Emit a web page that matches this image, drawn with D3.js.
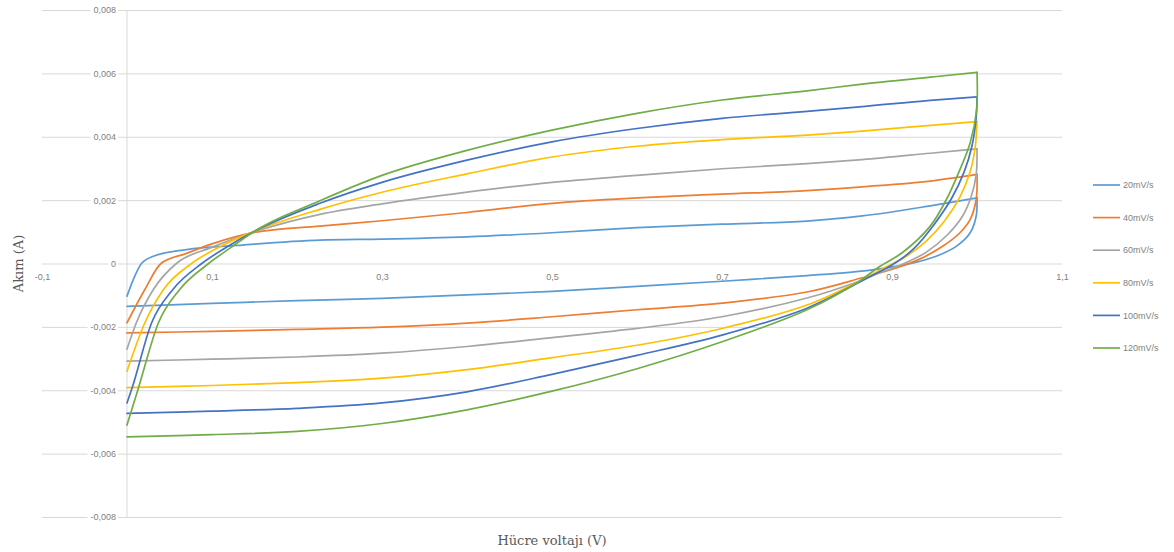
<!DOCTYPE html>
<html>
<head>
<meta charset="utf-8">
<script src="https://cdn.jsdelivr.net/npm/d3@7/dist/d3.min.js"></script>
<style>
  html, body { margin: 0; padding: 0; background: #fff; }
  svg { display: block; }
</style>
</head>
<body>
<svg id="chart" width="1174" height="552"></svg>
<script>
// ---------- data (V, mA) ----------
const seriesNames = ["20mV/s", "40mV/s", "60mV/s", "80mV/s", "100mV/s", "120mV/s"];
const seriesColors = ["#5B9BD5", "#ED7D31", "#A5A5A5", "#FFC000", "#4472C4", "#70AD47"];
const xTicks = [-0.1, 0.1, 0.3, 0.5, 0.7, 0.9, 1.1];
const yTicks = [-0.008, -0.006, -0.004, -0.002, 0, 0.002, 0.004, 0.006, 0.008];

// forward (anodic) sweeps, V from 0 to 1
const fwd20  = [[0,-1.03],[0.0075,-0.5],[0.017,0],[0.031,0.23],[0.07,0.44],[0.129,0.57],[0.227,0.74],[0.3,0.77],[0.4,0.84],[0.5,0.97],[0.6,1.13],[0.7,1.24],[0.8,1.34],[0.865,1.5],[0.945,1.82],[1.0,2.07]];
const fwd40  = [[0,-1.87],[0.021,-0.82],[0.04,0],[0.07,0.32],[0.1,0.62],[0.15,0.98],[0.227,1.18],[0.3,1.35],[0.4,1.61],[0.5,1.9],[0.6,2.07],[0.7,2.19],[0.8,2.30],[0.865,2.42],[0.945,2.6],[1.0,2.81]];
const fwd60  = [[0,-2.7],[0.011,-1.87],[0.031,-0.82],[0.058,0],[0.099,0.5],[0.15,1.0],[0.227,1.55],[0.3,1.88],[0.4,2.25],[0.5,2.56],[0.6,2.78],[0.7,2.99],[0.8,3.15],[0.865,3.28],[0.945,3.48],[1.0,3.62]];
const fwd80  = [[0,-3.4],[0.021,-1.87],[0.043,-0.82],[0.076,0],[0.107,0.5],[0.15,1.02],[0.227,1.71],[0.3,2.25],[0.4,2.83],[0.5,3.36],[0.6,3.70],[0.7,3.91],[0.8,4.05],[0.865,4.18],[0.945,4.36],[1.0,4.48]];
const fwd100 = [[0,-4.4],[0.0055,-3.97],[0.029,-1.87],[0.054,-0.82],[0.088,0],[0.116,0.5],[0.15,1.02],[0.227,1.9],[0.3,2.56],[0.4,3.26],[0.5,3.84],[0.6,4.26],[0.7,4.58],[0.8,4.8],[0.865,4.95],[0.945,5.15],[1.0,5.26]];
const fwd120 = [[0,-5.1],[0.013,-3.97],[0.037,-1.87],[0.062,-0.82],[0.096,0],[0.122,0.5],[0.15,1.02],[0.227,1.98],[0.3,2.78],[0.4,3.57],[0.5,4.21],[0.6,4.74],[0.7,5.16],[0.8,5.45],[0.865,5.66],[0.945,5.88],[1.0,6.03]];

// reverse (cathodic) sweeps, V from 1 back to 0 (start at the forward sweep's last point)
const rev20  = [[0.999,1.49],[0.992,0.97],[0.976,0.55],[0.952,0.23],[0.925,0.02],[0.886,-0.17],[0.85,-0.28],[0.8,-0.38],[0.7,-0.56],[0.6,-0.72],[0.5,-0.88],[0.4,-0.99],[0.3,-1.1],[0.2,-1.17],[0.1,-1.26],[0,-1.35]];
const rev40  = [[0.999,2.02],[0.992,1.39],[0.98,0.97],[0.96,0.55],[0.932,0.13],[0.905,-0.14],[0.865,-0.45],[0.8,-0.9],[0.7,-1.25],[0.6,-1.46],[0.5,-1.68],[0.4,-1.88],[0.3,-2.01],[0.2,-2.08],[0.1,-2.14],[0,-2.19]];
const rev60  = [[0.999,2.8],[0.993,2.1],[0.982,1.45],[0.965,0.9],[0.94,0.35],[0.91,-0.05],[0.88,-0.35],[0.862,-0.55],[0.8,-1.09],[0.7,-1.68],[0.6,-2.05],[0.5,-2.34],[0.4,-2.62],[0.3,-2.83],[0.2,-2.95],[0.1,-3.02],[0,-3.08]];
const rev80  = [[0.998,3.7],[0.992,2.9],[0.98,2.1],[0.962,1.35],[0.94,0.7],[0.915,0.2],[0.89,-0.15],[0.862,-0.55],[0.8,-1.31],[0.7,-2.05],[0.6,-2.58],[0.5,-2.97],[0.4,-3.35],[0.3,-3.62],[0.2,-3.76],[0.1,-3.85],[0,-3.92]];
const rev100 = [[0.999,4.6],[0.994,3.7],[0.985,2.9],[0.97,2.05],[0.95,1.25],[0.925,0.45],[0.9,-0.05],[0.875,-0.4],[0.8,-1.41],[0.7,-2.26],[0.6,-2.90],[0.5,-3.5],[0.4,-4.05],[0.3,-4.4],[0.2,-4.57],[0.1,-4.66],[0,-4.73]];
const rev120 = [[0.9996,4.86],[0.992,3.81],[0.98,2.97],[0.964,2.02],[0.945,1.18],[0.912,0.34],[0.885,-0.1],[0.862,-0.55],[0.8,-1.46],[0.7,-2.47],[0.6,-3.32],[0.5,-4.03],[0.4,-4.62],[0.3,-5.05],[0.2,-5.3],[0.1,-5.4],[0,-5.47]];

const forwards = [fwd20, fwd40, fwd60, fwd80, fwd100, fwd120];
const reverses = [rev20, rev40, rev60, rev80, rev100, rev120];

// ---------- drawing ----------
const svg = d3.select("#chart");
const x = d3.scaleLinear().domain([-0.1, 1.1]).range([42, 1062]);
const y = d3.scaleLinear().domain([-0.008, 0.008]).range([517, 10]);

const locale = d3.formatLocale({decimal: ",", thousands: ".", grouping: [3], currency: ["", ""], minus: "-"});
const fmtY = v => v === 0 ? "0" : locale.format(".3f")(v);
const fmtX = v => locale.format(".1f")(v);

const tickFont = "Liberation Sans, Arial, sans-serif";
const tickColor = "#7f7f7f";

// horizontal gridlines
const grid = svg.append("g")
  .attr("transform", `translate(${x(1.1)},0)`)
  .call(d3.axisLeft(y).tickValues(yTicks).tickSize(x(1.1) - x(-0.1)).tickFormat(""));
grid.select(".domain").remove();
grid.selectAll("line").attr("stroke", "#d9d9d9").attr("stroke-width", 1);

// vertical axis line at x = 0
svg.append("line")
  .attr("x1", x(0)).attr("x2", x(0))
  .attr("y1", y(0.008)).attr("y2", y(-0.008))
  .attr("stroke", "#d9d9d9").attr("stroke-width", 1);

// series
const lineFwd = d3.line()
  .x(d => x(d[0]))
  .y(d => y(d[1] / 1000))
  .curve(d3.curveMonotoneX);
const lineRev = d3.line()
  .x(d => x(d[0]))
  .y(d => y(d[1] / 1000))
  .curve(d3.curveCatmullRom.alpha(0.5));

forwards.forEach((f, i) => {
  const back = [f[f.length - 1]].concat(reverses[i]);
  const g = svg.append("g")
    .attr("fill", "none")
    .attr("stroke", seriesColors[i])
    .attr("stroke-width", 1.7)
    .attr("stroke-linejoin", "round")
    .attr("stroke-linecap", "round");
  g.append("path").attr("d", lineFwd(f));
  g.append("path").attr("d", lineRev(back));
});

// y axis labels with white background
const yAxis = svg.append("g")
  .attr("transform", `translate(${x(0)},0)`)
  .call(d3.axisLeft(y).tickValues(yTicks).tickSize(0).tickPadding(11).tickFormat(fmtY));
yAxis.select(".domain").remove();
yAxis.selectAll(".tick text")
  .attr("font-family", tickFont).attr("font-size", 9).attr("fill", tickColor);
yAxis.selectAll(".tick").each(function() {
  const t = d3.select(this).select("text");
  const bb = t.node().getBBox();
  d3.select(this).insert("rect", "text")
    .attr("x", bb.x - 3).attr("y", bb.y).attr("width", bb.width + 5).attr("height", bb.height)
    .attr("fill", "#fff");
});

// x axis labels
const xAxis = svg.append("g")
  .attr("transform", `translate(0,${y(0)})`)
  .call(d3.axisBottom(x).tickValues(xTicks).tickSize(0).tickPadding(10).tickFormat(fmtX));
xAxis.select(".domain").remove();
xAxis.selectAll(".tick text")
  .attr("font-family", tickFont).attr("font-size", 9).attr("fill", tickColor);

// axis titles
svg.append("text")
  .attr("x", (x(-0.1) + x(1.1)) / 2).attr("y", 545)
  .attr("text-anchor", "middle")
  .attr("font-family", "DejaVu Serif, Liberation Serif, serif")
  .attr("font-size", 13).attr("fill", "#595959")
  .text("Hücre voltajı (V)");

svg.append("text")
  .attr("transform", `translate(23,${y(0)}) rotate(-90)`)
  .attr("text-anchor", "middle")
  .attr("font-family", "DejaVu Serif, Liberation Serif, serif")
  .attr("font-size", 13).attr("fill", "#595959")
  .text("Akım (A)");

// legend
const legend = svg.append("g");
seriesNames.forEach((name, i) => {
  const ly = 185 + i * 32.6;
  legend.append("line")
    .attr("x1", 1093).attr("x2", 1120).attr("y1", ly).attr("y2", ly)
    .attr("stroke", seriesColors[i]).attr("stroke-width", 1.7);
  legend.append("text")
    .attr("x", 1123).attr("y", ly).attr("dy", "0.35em")
    .attr("font-family", tickFont).attr("font-size", 9).attr("fill", tickColor)
    .text(name);
});
</script>
</body>
</html>
